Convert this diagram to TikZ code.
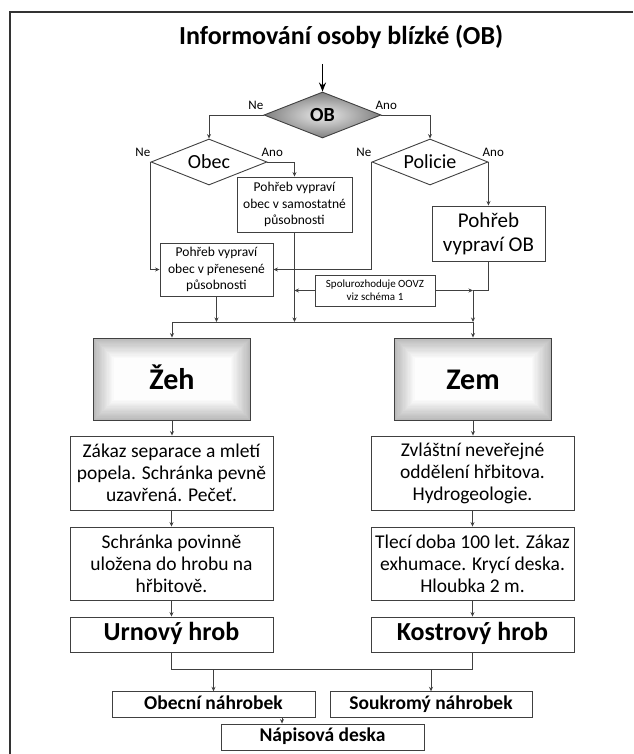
\documentclass[tikz,border=0pt]{standalone}
\usepackage{fontspec}
\setmainfont{Carlito}
\usetikzlibrary{arrows.meta,shapes.geometric,positioning}

\begin{document}
\begin{tikzpicture}[x=1pt, y=-1pt,
    conn/.style={draw=black!75, line width=0.8pt},
    arr/.style={conn, -{Stealth[length=4.5pt, width=4pt]}},
    box/.style={rectangle, draw=black!75, line width=0.9pt, inner sep=0pt, align=center},
    rhomb/.style={diamond, aspect=2.5, draw=black!75, line width=0.9pt, inner sep=0pt, minimum width=116pt, minimum height=46pt, font=\fontsize{20}{24}\selectfont},
    lbl/.style={inner sep=0pt, font=\fontsize{13}{15}\selectfont},
    mainbox/.style={box, minimum width=157pt, minimum height=82pt, text height=20pt, text depth=0pt, font=\bfseries\fontsize{30}{36}\selectfont,
        path picture={\foreach \i in {0,...,16} {
            \pgfmathsetmacro\shd{27-1.65*\i}
            \fill[black!\shd] ([shift={(\i*1.25pt,-\i*1.25pt)}]path picture bounding box.north west) rectangle ([shift={(-\i*1.25pt,\i*1.25pt)}]path picture bounding box.south east);
        }}},
    small/.style={box, font=\fontsize{13.5}{16.5}\selectfont},
    col/.style={box, minimum width=203pt, font=\fontsize{19.5}{22}\selectfont},
    grave/.style={box, minimum width=203pt, minimum height=35pt, text height=17pt, text depth=5pt, font=\bfseries\fontsize{26}{30}\selectfont},
    stone/.style={box, minimum width=203pt, minimum height=25.5pt, text height=13pt, text depth=4pt, font=\bfseries\fontsize{19.5}{22}\selectfont}
]
    \useasboundingbox (0,0) rectangle (633,754);
    \draw[black!80, line width=1.6pt] (10,754) -- (10,12) -- (633,12);

    \node[anchor=base west, inner sep=0pt, font=\bfseries\fontsize{26}{30}\selectfont] (title) at (179,45) {Informování osoby blízké (OB)};
    \coordinate (start) at (322.5,64);

    % decisions
    \node[rhomb, minimum width=117pt, inner color=black!8, outer color=black!50, font=\bfseries\fontsize{20}{24}\selectfont] (ob) at (322.5,115) {OB};
    \node[rhomb] (obec) at (209,162) {Obec};
    \node[rhomb] (pol) at (430,162) {Policie};

    \node[lbl, anchor=south east] (obne) at ([yshift=5pt]ob.west) {Ne};
    \node[lbl, anchor=south west] (obano) at ([xshift=-6pt, yshift=5pt]ob.east) {Ano};
    \node[lbl, anchor=south east] (obecne) at ([yshift=5pt]obec.west) {Ne};
    \node[lbl, anchor=south west] (obecano) at ([xshift=-6pt, yshift=5pt]obec.east) {Ano};
    \node[lbl, anchor=south east] (polne) at ([yshift=5pt]pol.west) {Ne};
    \node[lbl, anchor=south west] (polano) at ([xshift=-6pt, yshift=5pt]pol.east) {Ano};

    % who arranges the funeral
    \node[small, minimum width=115pt, minimum height=55pt] (sam) at (294.5,204.5) {Pohřeb vypraví\\obec v samostatné\\působnosti};
    \node[box, minimum width=113pt, minimum height=55pt, font=\fontsize{21}{24}\selectfont] (pobob) at (488.5,233.5) {Pohřeb\\vypraví OB};
    \node[small, minimum width=113pt, minimum height=53pt] (pren) at (216.5,269.5) {Pohřeb vypraví\\obec v přenesené\\působnosti};
    \node[small, minimum width=120pt, minimum height=31pt, font=\fontsize{11}{13.3}\selectfont] (spol) at (375,290.5) {Spolurozhoduje OOVZ\\viz schéma 1};
    \coordinate (bus) at (0,322);

    % two ways
    \node[mainbox] (zeh) at (172,379) {Žeh};
    \node[mainbox] (zem) at (473,379) {Zem};
    \node[col, minimum height=74pt] (zakaz) at (171.5,473) {Zákaz separace a mletí\\popela. Schránka pevně\\uzavřená. Pečeť.};
    \node[col, minimum height=74pt] (zvl) at (472.5,473) {Zvláštní neveřejné\\oddělení hřbitova.\\Hydrogeologie.};
    \node[col, minimum height=73pt] (schr) at (171.5,563.5) {Schránka povinně\\uložena do hrobu na\\hřbitově.};
    \node[col, minimum height=73pt] (tleci) at (472.5,563.5) {Tlecí doba 100 let. Zákaz\\exhumace. Krycí deska.\\Hloubka 2 m.};
    \node[grave] (urn) at (171.5,634.5) {Urnový hrob};
    \node[grave] (kost) at (472.5,634.5) {Kostrový hrob};
    \coordinate (bus2) at (0,669);

    \node[stone] (obecni) at (213.5,704.5) {Obecní náhrobek};
    \node[stone, minimum width=202pt] (souk) at (431,704.5) {Soukromý náhrobek};
    \node[stone, minimum height=26pt] (napis) at (322.5,737) {Nápisová deska};

    % connectors
    \draw[black, line width=1.5pt, -{Stealth[length=9pt, width=7pt]}] (start) -- (ob.north);
    \draw[arr] (ob.west) -| (obec.north);
    \draw[arr] (ob.east) -| (pol.north);
    \draw[arr] (obec.east) -| (sam.north);
    \draw[arr] (obec.west) |- (pren.west);
    \draw[arr] (pol.east) -- (pol.east |- pobob.north);
    \draw[arr] (pol.west) |- (pren.east);
    \draw[arr] (sam.south) -- (sam.south |- bus);
    \draw[arr] (pren.south) -- (pren.south |- bus);
    \draw[arr] (spol.west) -- (spol.west -| sam.south);
    \coordinate (join) at (spol.east -| zem.north);
    \draw[arr] (spol.east) -- (join);
    \draw[conn] (pobob.south) |- (join);
    \draw[arr] (join) -- (zem.north |- bus);
    \draw[conn] (zeh.north |- bus) -- (zem.north |- bus);
    \draw[arr] (zeh.north |- bus) -- (zeh.north);
    \draw[arr] (zem.north |- bus) -- (zem.north);

    \draw[arr] (zeh.south) -- (zeh.south |- zakaz.north);
    \draw[arr] (zem.south) -- (zem.south |- zvl.north);
    \draw[arr] (zakaz.south) -- (schr.north);
    \draw[arr] (zvl.south) -- (tleci.north);
    \draw[arr] (schr.south) -- (urn.north);
    \draw[arr] (tleci.south) -- (kost.north);

    \draw[conn] (urn.south) |- (bus2 -| kost.south) -- (kost.south);
    \draw[arr] (obecni.north |- bus2) -- (obecni.north);
    \draw[arr] (souk.north |- bus2) -- (souk.north);
    \draw[arr] ([xshift=68.5pt]obecni.south) -- ([xshift=68.5pt]obecni.south |- napis.north);
\end{tikzpicture}
\end{document}
